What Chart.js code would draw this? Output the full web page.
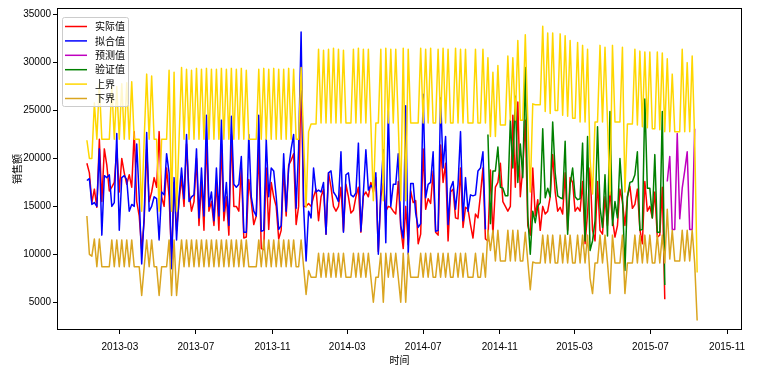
<!DOCTYPE html>
<html><head><meta charset="utf-8">
<script src="https://cdn.jsdelivr.net/npm/chart.js@4.4.0/dist/chart.umd.min.js"></script>
<style>html,body{margin:0;padding:0;background:#fff;}canvas{display:block;}</style>
</head><body>
<canvas id="c" width="758" height="370"></canvas>
<script>
// time grid: one value every stepDays days starting at firstDate
const firstDate = '2013-01-07';
const stepDays = 4;

const seriesLabels = ['实际值', '拟合值', '预测值', '验证值', '上界', '下界'];

const actual = [
19500,18500,15400,16800,14900,22000,15500,21000,19300,16600,
17000,17500,21000,16500,20000,18500,17300,18300,17000,22800,
15500,14000,10500,13500,21000,15500,16500,18000,17000,22800,
16000,15000,19000,16000,9500,17500,12500,15500,18000,15000,
21500,16500,14500,15500,20000,13000,17500,12500,22000,14500,
15500,13000,17500,12500,21500,13500,16000,12000,22500,15000,
15000,14500,19000,11700,11800,17800,15500,13100,14000,21000,
10600,10500,19000,12600,17500,16000,15000,11600,12500,19000,
14000,19300,19800,20500,13100,15000,29000,15000,15000,15300,
15000,16000,16800,13500,16000,16800,12100,18500,17000,15000,
14500,15000,17000,12400,17300,16000,14300,14600,16000,17000,
12300,16100,16500,16000,17500,16500,18000,10300,16000,17400,
14500,15000,14900,14500,14200,17600,12800,10600,15000,11000,
16600,15400,15600,11100,12100,21000,14700,15800,15300,18700,
12300,12000,21400,17500,19500,11400,16500,16800,13800,13700,
19000,12800,14900,14700,13100,11700,14200,13800,16200,19000,
11600,11400,18800,12000,17000,17500,19500,15500,15000,14500,
15000,24500,17000,25900,16000,19000,24000,13000,12000,19000,
14000,15700,12500,15000,14200,14500,16000,20400,16500,14500,
14900,14200,18500,12500,18000,17500,14500,14900,14500,17600,
11100,14300,19000,12500,11400,17600,12500,12100,16000,13000,
16500,13700,11800,13000,16800,15500,13000,16000,17100,14800,
15200,16800,12600,11100,17600,14500,15000,13800,16500,11800,
12000,17000,5300];

const fitted = [
17700,17900,15200,15400,15000,21000,12000,18200,18000,18300,
15000,15400,22600,12500,18000,18200,17800,14500,15200,15000,
21500,16000,9000,14000,22700,14500,15000,16000,15800,11500,
16500,16200,20500,18500,8500,18000,11500,16000,19000,15800,
22500,15500,16000,16200,21000,13800,19000,14000,24500,15000,
16500,13500,19000,14000,24000,14500,17500,13000,24400,17300,
17000,17300,20200,12300,12300,22500,16000,14500,14000,24500,
12400,12500,22000,16000,19000,18700,16000,12600,13000,20500,
14500,19000,21000,22500,14800,21000,33200,15000,9300,14500,
13800,19000,16500,16700,16500,17500,12100,18500,18700,16500,
16100,15500,20700,12300,18300,18500,16200,16000,16400,21600,
12400,16400,20900,16700,17200,16900,18500,10000,16500,20900,
11200,25000,15000,17300,17300,20500,13000,11700,25500,10000,
17400,17400,14300,12800,13200,26700,15900,17300,17500,20700,
12400,12500,26300,19000,22300,13100,16900,17600,14700,17300,
22800,13500,18000,14500,16200,16100,16200,18700,19000,20700,
12600];

const validationStart = 161;
const validation = [
22500,13200,18700,18700,21200,17000,16900,16100,16100,24000,
19000,26500,17500,21500,18000,29500,14000,10000,14500,13300,
15000,15400,23100,15900,16900,16000,23800,18500,16100,15900,
15800,21800,12100,17300,19000,16000,15700,15800,21600,11400,
22300,10400,11400,13500,23300,14900,12800,18300,11900,24900,
13000,15500,13800,20000,16000,8300,16000,17500,17600,18300,
20700,12500,12600,26200,16900,16900,13800,20400,12300,12300,
24900,6800];

const predictedStart = 233;
const predicted = [17600,20200,12600,12600,22600,13700,16900,18700,20700,12600,12600,23100];

const upper = [
21900,20000,20000,25800,22000,27800,22000,22000,22000,22000,
27500,22000,27500,22000,27800,22000,27900,22000,28000,22000,
22000,22000,14500,22000,28800,22000,28600,22000,22000,14500,
22000,22000,22000,29200,14500,29000,14500,22000,29500,22000,
29300,22000,29200,22000,29400,22000,29300,22000,29400,22000,
29300,22000,29300,22000,29400,22000,29300,22000,29400,22000,
29300,22000,29400,22000,29200,22000,22000,22000,22000,29300,
22000,29400,22000,29300,22000,29400,22000,29300,22000,29300,
22000,29400,22000,29300,22000,22000,29500,22000,14900,22800,
23600,23600,23600,31400,23700,31300,23700,31400,23700,31500,
23700,31400,23700,31300,23700,23700,23700,31400,23700,31500,
23700,31400,23700,31400,23700,15600,23700,23700,31400,15600,
31500,23700,31400,23700,31400,23700,15600,31500,15600,31400,
23700,23700,23700,23700,31500,23700,31400,23700,31500,23700,
23700,31400,23700,31500,23700,31400,23700,23700,31500,23700,
31400,23700,31400,23700,23700,23700,31400,23700,23700,31400,
23700,30500,22300,29000,22300,29700,23500,23500,23500,30700,
24000,30500,24000,32300,24000,24000,32900,24000,16500,25700,
25600,25600,25600,33800,24900,33100,24700,33100,25000,25000,
33000,24500,32800,24400,32300,24200,24200,32100,23800,31800,
23800,31400,20000,16300,23800,23800,31800,23800,31600,23800,
16200,31800,23800,23800,23800,31600,16500,23600,23600,23600,
31400,23500,31200,23300,31100,23200,31100,23100,23100,31100,
23000,31000,22800,30400,22800,28800,22800,22800,22800,31400,
22800,30000,22800,30700,22000,8100];

const lower = [
14000,10000,9800,11600,8700,11600,8700,8700,8700,8700,
11500,8700,11500,8700,11500,8700,11500,8700,11500,8700,
8700,8700,5700,8700,11500,8700,11500,8700,8700,5700,
8700,8700,8700,11500,5700,11500,5700,8700,11500,8700,
11500,8700,11500,8700,11500,8700,11500,8700,11500,8700,
11500,8700,11500,8700,11500,8700,11500,8700,11500,8700,
11500,8700,11500,8700,11500,8700,8700,8700,8700,11500,
8700,11500,8700,11500,8700,11500,8700,11500,8700,11500,
8700,11500,8700,11500,8700,8700,11500,8700,5800,8300,
7600,7600,7600,10100,7600,10100,7600,10100,7600,10100,
7600,10100,7600,10100,7600,7600,7600,10100,7600,10100,
7600,10100,7600,10100,7600,5000,7600,7600,10100,5000,
10100,7600,10100,7600,10100,7600,5000,10100,5000,10100,
7600,7600,7600,7600,10100,7600,10100,7600,10100,7600,
7600,10100,7600,10100,7600,10100,7600,7600,10100,7600,
10100,7600,10100,7600,7600,7600,10100,7600,7600,10100,
7600,12500,10400,12500,9300,12500,9300,9300,9300,12500,
9300,12500,9300,12500,9300,9300,12300,9300,6300,9200,
9100,9100,9100,12000,9100,12000,9100,12000,9100,9100,
12000,9100,12000,9100,12000,9100,9100,12000,9100,12000,
9100,12000,7500,5900,9100,9100,12000,9100,12000,9100,
5900,12000,9100,9100,9100,12000,5900,9100,9100,9100,
12000,9100,12000,9100,12000,9100,12000,9100,9100,12000,
9100,12000,9100,14700,9500,12500,9300,9300,9300,12500,
9300,12500,9300,12500,9100,3100];

const xTickLabels = ['2013-03','2013-07','2013-11','2014-03','2014-07','2014-11','2015-03','2015-07','2015-11'];
const yTickValues = [5000,10000,15000,20000,25000,30000,35000];
const xRange = ['2012-11-20', '2015-11-25'];
const yRange = [2100, 35700];

const DAY = 86400000;
const utc = s => Date.parse(s + 'T00:00:00Z');
const t0 = utc(firstDate);
const toPoints = (vals, start) => vals.map((v, i) => ({x: t0 + (start + i) * stepDays * DAY, y: v}));

const colors = ['#ff0000', '#0000ff', '#bf00bf', '#008000', '#ffd700', '#daa520'];
const seriesData = [
  toPoints(actual, 0), toPoints(fitted, 0), toPoints(predicted, predictedStart),
  toPoints(validation, validationStart), toPoints(upper, 0), toPoints(lower, 0)
];

const FONT = '"Liberation Sans", "Noto Sans CJK SC", sans-serif';
const CJK = '"Noto Sans CJK SC", sans-serif';

const framePlugin = {
  id: 'frame',
  afterDraw(chart) {
    const {ctx, chartArea: a} = chart;
    ctx.save();
    ctx.strokeStyle = '#000';
    ctx.lineWidth = 1;
    ctx.strokeRect(Math.round(a.left) + 0.5, Math.round(a.top) + 0.5,
                   Math.round(a.right - a.left) - 1, Math.round(a.bottom - a.top) - 1);
    // legend
    const bx = a.left + 5, by = a.top + 9, bw = 66, bh = 89;
    ctx.beginPath();
    if (ctx.roundRect) ctx.roundRect(bx + 0.5, by + 0.5, bw, bh, 2); else ctx.rect(bx + 0.5, by + 0.5, bw, bh);
    ctx.fillStyle = 'rgba(255,255,255,0.8)';
    ctx.fill();
    ctx.strokeStyle = '#cccccc';
    ctx.stroke();
    chart.data.datasets.forEach((ds, i) => {
      const cy = by + 9.5 + i * 14.4;
      ctx.beginPath();
      ctx.moveTo(bx + 3, cy);
      ctx.lineTo(bx + 25, cy);
      ctx.strokeStyle = ds.borderColor;
      ctx.lineWidth = 1.5;
      ctx.stroke();
      ctx.fillStyle = '#000';
      ctx.font = '10px ' + CJK;
      ctx.textBaseline = 'middle';
      ctx.textAlign = 'left';
      ctx.fillText(ds.label, bx + 33, cy);
    });
    ctx.restore();
  }
};

const n = seriesLabels.length;
new Chart(document.getElementById('c'), {
  type: 'line',
  data: {
    datasets: seriesLabels.map((lab, i) => ({
      label: lab,
      data: seriesData[i],
      borderColor: colors[i],
      backgroundColor: colors[i],
      borderWidth: 1.5,
      pointRadius: 0,
      fill: false,
      tension: 0,
      borderJoinStyle: 'round',
      order: n - i
    }))
  },
  options: {
    responsive: false,
    animation: false,
    events: [],
    layout: {padding: {left: 0, right: 16, top: 5, bottom: 0}},
    plugins: {legend: {display: false}, tooltip: {enabled: false}},
    scales: {
      x: {
        type: 'linear',
        min: utc(xRange[0]), max: utc(xRange[1]),
        afterBuildTicks: s => { s.ticks = xTickLabels.map(l => ({value: utc(l + '-01')})); },
        afterFit: s => { s.height = 40; },
        ticks: {
          autoSkip: false, maxRotation: 0, padding: 7, color: '#000',
          font: {family: FONT, size: 10},
          callback: v => { const d = new Date(v); return d.getUTCFullYear() + '-' + String(d.getUTCMonth() + 1).padStart(2, '0'); }
        },
        grid: {display: true, drawOnChartArea: false, drawTicks: true, tickLength: 4, color: '#000'},
        border: {display: false},
        title: {display: true, text: '时间', color: '#000', font: {family: CJK, size: 10}, padding: {top: 0, bottom: 4}}
      },
      y: {
        type: 'linear',
        min: yRange[0], max: yRange[1],
        afterBuildTicks: s => { s.ticks = yTickValues.map(v => ({value: v})); },
        afterFit: s => { s.width = 57; },
        ticks: {padding: 2, color: '#000', font: {family: FONT, size: 10}, callback: v => String(v)},
        grid: {display: true, drawOnChartArea: false, drawTicks: true, tickLength: 4, color: '#000'},
        border: {display: false},
        title: {display: true, text: '销售额', color: '#000', font: {family: CJK, size: 10}, padding: {top: 11, bottom: 0}}
      }
    }
  },
  plugins: [framePlugin]
});
</script>
</body></html>
